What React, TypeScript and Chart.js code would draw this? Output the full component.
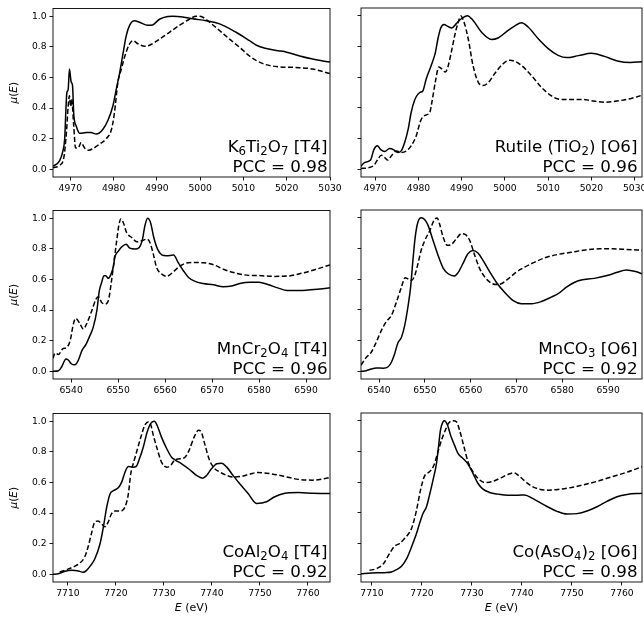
import React, { useEffect, useRef } from "react";
import { Chart, registerables } from "chart.js";
Chart.register(...registerables);

// ---------------- data ----------------
const tiTicks = [4970, 4980, 4990, 5000, 5010, 5020, 5030];
const mnTicks = [6540, 6550, 6560, 6570, 6580, 6590];
const coTicks = [7710, 7720, 7730, 7740, 7750, 7760];
const muTicks = [0, 0.2, 0.4, 0.6, 0.8, 1.0];

type P = [number, number];

const k6ti2o7Solid: P[] = [[4966.0,0.02],[4967.5,0.055],[4968.3,0.12],[4968.7,0.2],[4969.0,0.4],[4969.2,0.5],[4969.5,0.52],[4969.8,0.655],[4970.2,0.57],[4970.5,0.55],[4970.8,0.36],[4971.4,0.28],[4972.2,0.235],[4973.7,0.24],[4974.8,0.24],[4976,0.23],[4977.5,0.26],[4978.7,0.32],[4979.8,0.41],[4980.6,0.52],[4981.4,0.63],[4982.2,0.76],[4982.9,0.87],[4983.7,0.94],[4984.8,0.97],[4986,0.96],[4987.9,0.94],[4989,0.943],[4990.6,0.98],[4992.5,0.998],[4993.7,1.0],[4996,0.995],[4998.3,0.983],[5001.4,0.97],[5004.5,0.95],[5008.3,0.895],[5011.4,0.84],[5013,0.81],[5015,0.79],[5018,0.775],[5020,0.765],[5023,0.74],[5026,0.72],[5030,0.70]];
const k6ti2o7Dashed: P[] = [[4966,0.01],[4967.5,0.026],[4968.5,0.076],[4969.1,0.24],[4969.5,0.41],[4969.8,0.48],[4970.1,0.41],[4970.3,0.46],[4970.8,0.28],[4971.2,0.14],[4971.8,0.14],[4972.5,0.175],[4973.3,0.14],[4974.3,0.125],[4975.2,0.135],[4976.8,0.165],[4978.3,0.2],[4979.5,0.26],[4980.2,0.37],[4981,0.57],[4981.8,0.655],[4982.5,0.73],[4983.7,0.82],[4984.5,0.84],[4985.6,0.82],[4987.2,0.803],[4988.3,0.81],[4990.6,0.85],[4992.9,0.895],[4995.2,0.94],[4997.5,0.98],[4999.1,1.0],[5000.6,0.993],[5002.2,0.96],[5004.5,0.906],[5006.8,0.85],[5009.1,0.797],[5011.4,0.74],[5013,0.71],[5015,0.685],[5018,0.67],[5022,0.665],[5026,0.655],[5030,0.625]];

const rutileSolid: P[] = [[4966.7,0.02],[4967.5,0.044],[4968.9,0.06],[4969.7,0.13],[4970.5,0.153],[4971.2,0.13],[4972.2,0.116],[4973.3,0.135],[4974.3,0.127],[4975.2,0.11],[4976,0.12],[4976.8,0.175],[4977.6,0.26],[4978.3,0.37],[4979.1,0.45],[4980.3,0.5],[4981,0.51],[4981.8,0.59],[4983,0.68],[4983.9,0.76],[4984.5,0.85],[4985.1,0.917],[4985.9,0.943],[4986.8,0.93],[4987.7,0.92],[4988.8,0.95],[4989.9,0.98],[4991.3,1.0],[4992.6,0.97],[4994.5,0.895],[4996.9,0.845],[4998.4,0.855],[5000.3,0.895],[5002.3,0.934],[5003.8,0.954],[5005.3,0.928],[5007.7,0.85],[5010,0.786],[5012.3,0.742],[5014.3,0.727],[5017,0.74],[5020,0.755],[5023,0.735],[5026,0.705],[5029,0.695],[5031.7,0.70]];
const rutileDashed: P[] = [[4966.7,0.005],[4968.3,0.01],[4969.7,0.026],[4970.6,0.066],[4971.4,0.092],[4972.2,0.076],[4972.9,0.06],[4973.7,0.087],[4974.9,0.12],[4976,0.11],[4977.2,0.12],[4978.3,0.153],[4979.5,0.22],[4980.5,0.317],[4981.4,0.35],[4982.6,0.37],[4983.1,0.437],[4983.9,0.57],[4984.7,0.666],[4985.3,0.655],[4986.2,0.633],[4986.8,0.666],[4987.6,0.764],[4988.4,0.873],[4989.1,0.95],[4989.8,0.998],[4990.5,0.96],[4991.5,0.85],[4992.6,0.677],[4993.8,0.568],[4994.9,0.546],[4996.1,0.563],[4997.6,0.622],[4999.6,0.688],[5001.1,0.71],[5002.3,0.703],[5003.8,0.677],[5006.1,0.611],[5008.4,0.535],[5010.4,0.485],[5012.3,0.458],[5014.3,0.454],[5018,0.455],[5020,0.447],[5023,0.437],[5026,0.445],[5029,0.46],[5031.7,0.482]];

const mncr2o4Solid: P[] = [[6536.15,0.0],[6537.3,0.004],[6538,0.03],[6538.9,0.08],[6539.4,0.074],[6540.1,0.048],[6540.8,0.043],[6541.5,0.07],[6542.3,0.135],[6543.2,0.178],[6544,0.233],[6544.7,0.287],[6545.5,0.4],[6546,0.526],[6546.5,0.58],[6547,0.624],[6547.4,0.624],[6547.9,0.607],[6548.5,0.635],[6549,0.683],[6549.3,0.743],[6550.1,0.787],[6550.8,0.813],[6551.7,0.83],[6552.5,0.804],[6553.6,0.798],[6554.5,0.809],[6555.2,0.863],[6555.7,0.95],[6556.3,1.0],[6556.9,0.972],[6557.6,0.874],[6558.4,0.798],[6559.3,0.76],[6560.3,0.754],[6561.8,0.759],[6562.8,0.71],[6563.9,0.657],[6565,0.613],[6566.4,0.587],[6568.1,0.574],[6570.3,0.565],[6572.4,0.552],[6574.2,0.557],[6575.9,0.574],[6578.1,0.582],[6580,0.582],[6582,0.565],[6584,0.545],[6586,0.528],[6590,0.53],[6593,0.538],[6595.1,0.545]];
const mncr2o4Dashed: P[] = [[6536.15,0.085],[6536.6,0.12],[6537.3,0.11],[6538.2,0.146],[6539.1,0.157],[6539.8,0.2],[6540.5,0.31],[6541,0.346],[6541.9,0.31],[6542.6,0.276],[6543.3,0.31],[6544.4,0.396],[6545.3,0.472],[6545.8,0.487],[6546.5,0.45],[6547.2,0.44],[6547.9,0.46],[6548.6,0.59],[6549.1,0.71],[6549.7,0.852],[6550.2,0.96],[6550.6,0.995],[6551.1,0.972],[6551.8,0.907],[6552.9,0.874],[6554,0.846],[6555,0.852],[6556.1,0.863],[6556.8,0.84],[6557.5,0.765],[6558.2,0.678],[6559.3,0.635],[6560.3,0.62],[6561.4,0.64],[6562.8,0.678],[6564.2,0.704],[6566,0.71],[6568.1,0.709],[6570.3,0.696],[6572.4,0.667],[6575.2,0.64],[6578.1,0.626],[6580,0.625],[6583,0.62],[6586,0.622],[6589,0.64],[6592,0.665],[6595.1,0.695]];

const mnco3Solid: P[] = [[6536.07,0],[6537.2,0.004],[6538.3,0.015],[6539.4,0.022],[6540.9,0.02],[6542,0.03],[6542.7,0.059],[6543.4,0.113],[6544.1,0.183],[6544.9,0.222],[6545.6,0.298],[6546.3,0.417],[6546.9,0.548],[6547.4,0.722],[6547.9,0.874],[6548.5,0.972],[6549.2,1.0],[6550,0.987],[6550.7,0.95],[6551.8,0.852],[6552.9,0.754],[6554,0.672],[6555.1,0.635],[6556.4,0.62],[6557.2,0.64],[6558.3,0.7],[6559.4,0.765],[6560.5,0.787],[6561.6,0.77],[6562.7,0.722],[6564.2,0.646],[6565.6,0.58],[6567.4,0.515],[6569.3,0.46],[6571.1,0.44],[6573.3,0.44],[6575.4,0.454],[6577.6,0.483],[6579.1,0.505],[6581,0.55],[6583.5,0.59],[6587,0.605],[6590,0.625],[6592,0.645],[6594,0.66],[6596,0.65],[6597.4,0.635]];
const mnco3Dashed: P[] = [[6536.07,0.04],[6537.2,0.09],[6538.3,0.124],[6539.4,0.19],[6540.5,0.265],[6541.6,0.324],[6542.7,0.363],[6543.8,0.45],[6544.9,0.548],[6545.7,0.609],[6546.3,0.602],[6547.1,0.591],[6547.8,0.624],[6548.5,0.7],[6549.2,0.787],[6550,0.852],[6551.1,0.917],[6552,0.983],[6552.7,0.998],[6553.2,0.96],[6554,0.874],[6554.9,0.82],[6555.8,0.826],[6556.9,0.863],[6558,0.896],[6558.8,0.891],[6559.8,0.852],[6560.9,0.754],[6562,0.667],[6563.1,0.613],[6564.2,0.58],[6565.6,0.565],[6566.7,0.57],[6568.2,0.602],[6570,0.646],[6571.8,0.678],[6574,0.711],[6576.2,0.739],[6579.1,0.761],[6582,0.775],[6585,0.79],[6588,0.797],[6591,0.797],[6594,0.793],[6597.4,0.788]];

const coal2o4Solid: P[] = [[7706.9,0],[7708,0.004],[7709.4,0.02],[7710.8,0.026],[7712.2,0.022],[7713.2,0.013],[7713.9,0.026],[7714.6,0.052],[7715.6,0.1],[7716.7,0.2],[7717.4,0.31],[7718.1,0.44],[7718.8,0.526],[7719.6,0.548],[7720.5,0.565],[7721.2,0.602],[7721.9,0.667],[7722.6,0.704],[7723.5,0.7],[7724.2,0.704],[7724.9,0.754],[7725.7,0.83],[7726.5,0.928],[7727.3,0.987],[7728,1.0],[7728.6,0.972],[7729.5,0.896],[7730.6,0.82],[7731.6,0.765],[7732.3,0.748],[7733.7,0.722],[7735.4,0.683],[7736.8,0.646],[7738.1,0.628],[7738.9,0.646],[7739.9,0.689],[7741,0.722],[7742,0.726],[7743.1,0.7],[7744.4,0.646],[7745.8,0.591],[7747.5,0.53],[7749.3,0.463],[7751.4,0.474],[7753,0.505],[7755,0.528],[7758,0.534],[7761,0.53],[7764.6,0.528]];
const coal2o4Dashed: P[] = [[7708.3,0.015],[7709.7,0.03],[7711.1,0.048],[7712.5,0.074],[7713.5,0.113],[7714.2,0.178],[7714.9,0.265],[7715.6,0.341],[7716.3,0.348],[7717,0.33],[7717.7,0.31],[7718.4,0.341],[7719.1,0.396],[7719.8,0.413],[7720.8,0.413],[7721.9,0.44],[7722.6,0.526],[7723.1,0.657],[7723.8,0.743],[7724.4,0.809],[7725.3,0.907],[7726,0.972],[7726.7,0.995],[7727.2,0.983],[7727.8,0.907],[7728.5,0.83],[7729.5,0.733],[7730.6,0.7],[7731.4,0.711],[7732.3,0.748],[7733.3,0.754],[7734.4,0.765],[7735.3,0.813],[7736.3,0.896],[7737.2,0.94],[7737.8,0.928],[7738.5,0.852],[7739.4,0.754],[7740.3,0.7],[7741.7,0.667],[7743.1,0.646],[7744.4,0.635],[7746.2,0.64],[7748,0.655],[7749.5,0.665],[7752,0.658],[7755,0.64],[7758,0.62],[7761,0.615],[7763,0.622],[7764.6,0.632]];

const coAsO4Solid: P[] = [[7707.8,0.004],[7709.9,0.009],[7712.5,0.011],[7713.9,0.015],[7714.9,0.03],[7715.9,0.052],[7716.9,0.1],[7717.9,0.178],[7718.9,0.265],[7719.5,0.33],[7720.2,0.396],[7720.9,0.44],[7721.5,0.515],[7722.2,0.613],[7722.9,0.722],[7723.3,0.83],[7723.7,0.94],[7724.2,0.993],[7724.5,1.0],[7725.1,0.972],[7725.7,0.907],[7726.5,0.841],[7727.2,0.787],[7728.2,0.754],[7729.2,0.717],[7730.2,0.657],[7731.2,0.591],[7732.2,0.554],[7733.5,0.533],[7735.2,0.522],[7737.2,0.515],[7739.2,0.515],[7740.5,0.517],[7742.2,0.493],[7744.5,0.45],[7747,0.41],[7749,0.392],[7751,0.395],[7753,0.412],[7755,0.44],[7757,0.475],[7759,0.505],[7761,0.52],[7764,0.527]];
const coAsO4Dashed: P[] = [[7709.5,0.026],[7710.9,0.037],[7712.2,0.065],[7713.5,0.135],[7714.5,0.183],[7715.5,0.2],[7716.5,0.233],[7717.9,0.298],[7718.9,0.417],[7719.7,0.548],[7720.5,0.639],[7721.5,0.667],[7722.4,0.711],[7723.1,0.787],[7723.9,0.874],[7724.7,0.94],[7725.3,0.983],[7726.2,1.0],[7726.9,0.993],[7727.5,0.94],[7728.4,0.83],[7729.2,0.733],[7730.2,0.667],[7731.2,0.624],[7732.5,0.598],[7733.9,0.602],[7735.5,0.624],[7737.2,0.65],[7738.4,0.661],[7739.2,0.646],[7740.5,0.609],[7741.9,0.574],[7743.5,0.554],[7745.2,0.548],[7747.2,0.552],[7749,0.56],[7752,0.58],[7755,0.605],[7758,0.635],[7761,0.665],[7764,0.7]];

// ---------------- text ----------------
type Seg = { t: string; sub?: boolean; it?: boolean };
const labelK6: Seg[] = [{ t: "K" }, { t: "6", sub: true }, { t: "Ti" }, { t: "2", sub: true }, { t: "O" }, { t: "7", sub: true }, { t: " [T4]" }];
const labelRutile: Seg[] = [{ t: "Rutile (TiO" }, { t: "2", sub: true }, { t: ") [O6]" }];
const labelMnCr: Seg[] = [{ t: "MnCr" }, { t: "2", sub: true }, { t: "O" }, { t: "4", sub: true }, { t: " [T4]" }];
const labelMnCO3: Seg[] = [{ t: "MnCO" }, { t: "3", sub: true }, { t: " [O6]" }];
const labelCoAl: Seg[] = [{ t: "CoAl" }, { t: "2", sub: true }, { t: "O" }, { t: "4", sub: true }, { t: " [T4]" }];
const labelCoAs: Seg[] = [{ t: "Co(AsO" }, { t: "4", sub: true }, { t: ")" }, { t: "2", sub: true }, { t: " [O6]" }];
const yTitle: Seg[] = [{ t: "μ", it: true }, { t: "(" }, { t: "E", it: true }, { t: ")" }];
const xTitle: Seg[] = [{ t: "E", it: true }, { t: " (eV)" }];

const FONT = "'DejaVu Sans', sans-serif";
const ROWS = [{ T: 8, B: 177 }, { T: 210, B: 379 }, { T: 413, B: 582 }];
const COLS = [{ L: 53, R: 330, cl: 0, textOff: 2.5 }, { L: 361, R: 642, cl: 346, textOff: 4.5 }];

const PANELS = [
  { row: 0, col: 0, xMin: 4966, xMax: 5030, ticks: tiTicks, solid: k6ti2o7Solid, dashed: k6ti2o7Dashed, label: labelK6, pcc: "PCC = 0.98" },
  { row: 0, col: 1, xMin: 4966.7, xMax: 5031.7, ticks: tiTicks, solid: rutileSolid, dashed: rutileDashed, label: labelRutile, pcc: "PCC = 0.96" },
  { row: 1, col: 0, xMin: 6536.15, xMax: 6595.1, ticks: mnTicks, solid: mncr2o4Solid, dashed: mncr2o4Dashed, label: labelMnCr, pcc: "PCC = 0.96" },
  { row: 1, col: 1, xMin: 6536.07, xMax: 6597.4, ticks: mnTicks, solid: mnco3Solid, dashed: mnco3Dashed, label: labelMnCO3, pcc: "PCC = 0.92" },
  { row: 2, col: 0, xMin: 7706.9, xMax: 7764.6, ticks: coTicks, solid: coal2o4Solid, dashed: coal2o4Dashed, label: labelCoAl, pcc: "PCC = 0.92" },
  { row: 2, col: 1, xMin: 7707.8, xMax: 7764, ticks: coTicks, solid: coAsO4Solid, dashed: coAsO4Dashed, label: labelCoAs, pcc: "PCC = 0.98" },
];

function drawRich(ctx: CanvasRenderingContext2D, segs: Seg[], x: number, y: number, size: number, align: "left" | "right" | "center") {
  const fontOf = (s: Seg) => `${s.it ? "italic " : ""}${s.sub ? size * 0.7 : size}px ${FONT}`;
  const widths = segs.map((s) => { ctx.font = fontOf(s); return ctx.measureText(s.t).width; });
  const total = widths.reduce((a, b) => a + b, 0);
  let cx = align === "left" ? x : align === "right" ? x - total : x - total / 2;
  ctx.textAlign = "left";
  ctx.textBaseline = "alphabetic";
  segs.forEach((s, i) => {
    ctx.font = fontOf(s);
    ctx.fillText(s.t, cx, y + (s.sub ? size * 0.2 : 0));
    cx += widths[i];
  });
}

const PAD_TOP = 8, PAD_RIGHT = 16, XH = 21;

function Panel({ cfg }: { cfg: (typeof PANELS)[number] }) {
  const ref = useRef<HTMLCanvasElement>(null);
  const row = ROWS[cfg.row];
  const col = COLS[cfg.col];
  const padBottom = cfg.row === 2 ? 22 : 0;
  const canvasTop = row.T - PAD_TOP;
  const w = col.R - col.cl + PAD_RIGHT;
  const h = PAD_TOP + (row.B - row.T) + XH + padBottom;
  const yW = col.L - col.cl;

  useEffect(() => {
    const overlay = {
      id: "overlay",
      afterDraw(chart: any) {
        const ctx: CanvasRenderingContext2D = chart.ctx;
        const a = chart.chartArea;
        ctx.save();
        ctx.strokeStyle = "#000";
        ctx.lineWidth = 0.9;
        ctx.strokeRect(a.left, a.top, a.right - a.left, a.bottom - a.top);
        ctx.fillStyle = "#000";
        const tx = a.right - col.textOff;
        const b2 = a.bottom - 5;
        drawRich(ctx, cfg.label, tx, b2 - 20, 16.7, "right");
        drawRich(ctx, [{ t: cfg.pcc }], tx, b2, 16.7, "right");
        if (cfg.col === 0) {
          ctx.save();
          ctx.translate(16.5, (a.top + a.bottom) / 2);
          ctx.rotate(-Math.PI / 2);
          drawRich(ctx, yTitle, 0, 0, 10.5, "center");
          ctx.restore();
        }
        if (cfg.row === 2) {
          drawRich(ctx, xTitle, (a.left + a.right) / 2, 611 - canvasTop, 11, "center");
        }
        ctx.restore();
      },
    };
    const tickFont = { family: FONT, size: 9.2 };
    const chart = new Chart(ref.current!, {
      type: "line",
      data: {
        datasets: [
          { data: cfg.solid.map(([x, y]) => ({ x, y })), borderColor: "#000", borderWidth: 1.5, pointRadius: 0, cubicInterpolationMode: "monotone", fill: false },
          { data: cfg.dashed.map(([x, y]) => ({ x, y })), borderColor: "#000", borderWidth: 1.5, borderDash: [5, 2.5], pointRadius: 0, cubicInterpolationMode: "monotone", fill: false },
        ],
      },
      options: {
        responsive: false,
        animation: false,
        events: [],
        layout: { padding: { top: PAD_TOP, right: PAD_RIGHT, bottom: padBottom, left: 0 } },
        plugins: { legend: { display: false }, tooltip: { enabled: false }, title: { display: false } },
        scales: {
          x: {
            type: "linear",
            min: cfg.xMin,
            max: cfg.xMax,
            afterBuildTicks: (s: any) => { s.ticks = cfg.ticks.map((v) => ({ value: v })); },
            afterFit: (s: any) => { s.height = XH; },
            ticks: { font: tickFont, color: "#000", autoSkip: false, maxRotation: 0, padding: 3, callback: (v: any) => String(v) },
            grid: { drawOnChartArea: false, drawTicks: true, tickLength: 3.5, tickColor: "#000", tickWidth: 0.9 },
            border: { display: false },
          },
          y: {
            type: "linear",
            min: -0.05,
            max: 1.05,
            afterBuildTicks: (s: any) => { s.ticks = muTicks.map((v) => ({ value: v })); },
            afterFit: (s: any) => { s.width = yW; },
            ticks: { display: cfg.col === 0, font: tickFont, color: "#000", autoSkip: false, padding: 3, callback: (v: any) => Number(v).toFixed(1) },
            grid: { drawOnChartArea: false, drawTicks: true, tickLength: 3.5, tickColor: "#000", tickWidth: 0.9 },
            border: { display: false },
          },
        },
      } as any,
      plugins: [overlay],
    });
    return () => chart.destroy();
  }, []);

  return (
    <canvas
      ref={ref}
      width={w}
      height={h}
      style={{ position: "absolute", left: col.cl, top: canvasTop, width: w, height: h }}
    />
  );
}

export default function App() {
  return (
    <div style={{ position: "fixed", left: 0, top: 0, width: 644, height: 621, overflow: "hidden", background: "#fff" }}>
      {PANELS.map((p, i) => (
        <Panel key={i} cfg={p} />
      ))}
    </div>
  );
}
